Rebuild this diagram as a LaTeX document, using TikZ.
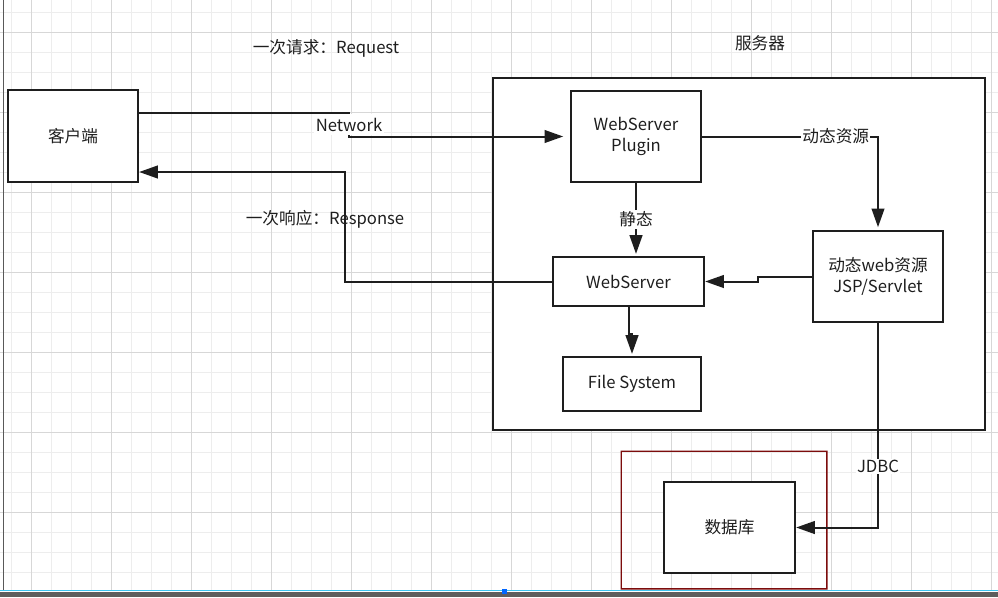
\documentclass[tikz,border=0pt]{standalone}
\usepackage{fontspec}
\setmainfont{Noto Sans CJK SC}
\usepackage{xcolor}
\usepackage{tikz}
\usetikzlibrary{positioning,calc,arrows.meta}

\definecolor{gridminor}{HTML}{EDEDED}
\definecolor{gridmajor}{HTML}{D7D7D7}
\definecolor{linecol}{HTML}{1E1E1E}
\definecolor{redframe}{HTML}{7C0C0C}
\definecolor{barcol}{HTML}{5E5E5E}
\definecolor{barline}{HTML}{3CC3F0}

\begin{document}
\begin{tikzpicture}[x=0.75pt,y=-0.75pt, font=\fontsize{12.5}{15.5}\selectfont, line cap=butt, line join=miter]
				\useasboundingbox (0,0) rectangle (998,597);
				\fill[white] (0,0) rectangle (998,597);
				
				% ===== 网格 =====
				\foreach \k in {0,1,...,49}{
					\draw[gridminor, line width=0.75pt] (11.7+20*\k,0) -- (11.7+20*\k,590);
				}
				\foreach \k in {0,1,...,28}{
					\draw[gridminor, line width=0.75pt] (0,12.7+20*\k) -- (998,12.7+20*\k);
				}
				\foreach \k in {0,1,...,12}{
					\draw[gridmajor, line width=0.75pt] (31.7+80*\k,0) -- (31.7+80*\k,590);
				}
				\foreach \k in {0,1,...,6}{
					\draw[gridmajor, line width=0.75pt] (0,32.7+80*\k) -- (998,32.7+80*\k);
				}
				\draw[gray!70!black, line width=0.9pt] (3.5,0) -- (3.5,591);
				
				% ===== 底栏 =====
				\fill[barcol] (0,591.8) rectangle (998,597);
				\draw[barline, line width=1pt] (0,590.8) -- (998,590.8);
				\fill[blue!60!cyan] (502,588.5) rectangle (507,594);
				
				% ===== 样式 =====
				\tikzset{
					box/.style={draw=linecol, line width=1.7pt, fill=white, align=center, inner sep=2pt, text=linecol},
					conn/.style={draw=linecol, line width=1.5pt, -{Triangle[length=14pt,width=9.5pt]}},
					tag/.style={fill=white, inner sep=1pt, text=linecol},
					lbl/.style={text=linecol}
				}
				
				% ===== 服务器框 =====
				\node[box, line width=1.9pt, minimum width=369pt, minimum height=264pt] (server) at (739,254) {};
				\node[outer sep=0pt, minimum width=155.25pt, minimum height=104.25pt] (dbframe) at (724,520) {};
				\fill[redframe, even odd rule] (dbframe.north west) rectangle (dbframe.south east)
					([shift={(1.3,1.3)}]dbframe.north west) rectangle ([shift={(-1.3,-1.3)}]dbframe.south east);
				
				% ===== 节点 =====
				\node[box, minimum width=97.5pt, minimum height=69pt] (client) at (73,136) {客户端};
				\node[box, minimum width=97.5pt, minimum height=68.25pt] (plugin) at (636,136.5) {WebServer\\Plugin};
				\node[box, minimum width=113.25pt, minimum height=36.75pt] (webserver) at (628.5,281.5) {WebServer};
				\node[box, minimum width=103.5pt, minimum height=40.5pt] (filesys) at (632,384) {File System};
				\node[box, minimum width=97.5pt, minimum height=68.25pt] (dynamic) at (878,276.5) {动态web资源\\JSP/Servlet};
				\node[box, minimum width=98.25pt, minimum height=68.25pt] (db) at (729.5,527.5) {数据库};
				
				% ===== 文字 =====
				\node[lbl] (reqlbl) at (326,48) {一次请求：Request};
				\node[lbl] (reslbl) at (325,219) {一次响应：Response};
				\node[lbl] (srvlbl) at (760,43) {服务器};
				
				% ===== 连线 =====
				\coordinate (reqout) at ($(client.east)+(0,-23)$);
				\coordinate (netbend) at (349,0);
				\coordinate (resbend) at (345,0);
				\draw[conn, shorten >=5pt] (reqout) -- (reqout -| netbend) -- node[tag, minimum height=16pt] {Network} (plugin.west -| netbend) -- (plugin.west);
				\draw[conn] (webserver.west) -- (webserver.west -| resbend) |- ($(client.east)+(0,36)$);
				\draw[conn, shorten >=2pt] (plugin.east) -| node[tag, pos=0.38] {动态资源} (dynamic.north);
				\draw[conn, shorten >=1.5pt] (plugin.south) -- node[tag] {静态} (plugin.south |- webserver.north);
				\draw[conn] (dynamic.west) -- ++(-54,0) |- (webserver.east);
				\draw[conn, shorten >=1.5pt] (webserver.south) -- ++(0,27) -| (filesys.north);
				\draw[conn] (dynamic.south) |- node[tag, pos=0.35] {JDBC} (db.east);
			\end{tikzpicture}
\end{document}
